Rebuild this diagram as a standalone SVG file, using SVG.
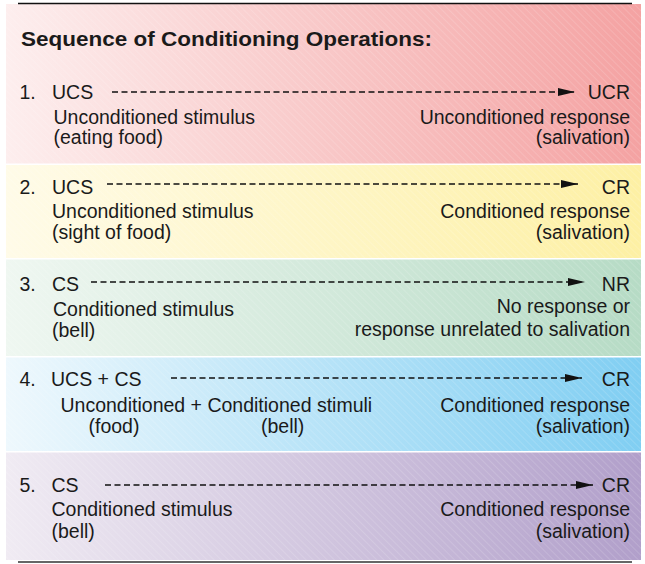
<svg xmlns="http://www.w3.org/2000/svg" width="645" height="564" viewBox="0 0 645 564">
<defs>
<linearGradient id="g1" x1="0" y1="0" x2="1" y2="0"><stop offset="0" stop-color="#fdeeee"/><stop offset="1" stop-color="#f4a2a2"/></linearGradient>
<linearGradient id="g2" x1="0" y1="0" x2="1" y2="0"><stop offset="0" stop-color="#fffbe8"/><stop offset="1" stop-color="#fdf0a4"/></linearGradient>
<linearGradient id="g3" x1="0" y1="0" x2="1" y2="0"><stop offset="0" stop-color="#eff7f1"/><stop offset="1" stop-color="#b6dbc5"/></linearGradient>
<linearGradient id="g4" x1="0" y1="0" x2="1" y2="0"><stop offset="0" stop-color="#eef8fd"/><stop offset="1" stop-color="#80cef2"/></linearGradient>
<linearGradient id="g5" x1="0" y1="0" x2="1" y2="0"><stop offset="0" stop-color="#f0ebf3"/><stop offset="1" stop-color="#b19fca"/></linearGradient>
<pattern id="hatch" width="5" height="5" patternUnits="userSpaceOnUse" patternTransform="rotate(-45)">
<line x1="0" y1="0" x2="0" y2="5" stroke="#ffffff" stroke-width="0.8" stroke-opacity="0.35"/>
</pattern>
<marker id="ah" viewBox="0 0 17 8" refX="17" refY="4" markerWidth="17" markerHeight="8" markerUnits="userSpaceOnUse" orient="auto">
<path d="M0,0 L17,4 L0,8 Z" fill="#111"/>
</marker>
<style>
text{font-family:"Liberation Sans",Arial,Helvetica,sans-serif;font-size:19.5px;fill:#1a1a1a}
.t{font-weight:bold;font-size:21px}
.r{text-anchor:end}
.arr{stroke:#111;stroke-width:1.5;stroke-dasharray:6 3.5;fill:none}
</style>
</defs>
<g id="bands">
<rect x="6" y="4" width="635" height="159.5" fill="url(#g1)"/>
<rect x="6" y="165" width="635" height="93" fill="url(#g2)"/>
<rect x="6" y="259.5" width="635" height="96.5" fill="url(#g3)"/>
<rect x="6" y="357.5" width="635" height="93.5" fill="url(#g4)"/>
<rect x="6" y="452.5" width="635" height="107.5" fill="url(#g5)"/>
<rect x="6" y="4" width="635" height="556" fill="url(#hatch)"/>
</g>
<line x1="18" y1="3.5" x2="632" y2="3.5" stroke="#111" stroke-width="1.5"/>
<line x1="18" y1="562" x2="632" y2="562" stroke="#333" stroke-width="1.5"/>
<text id="title" class="t" x="21" y="46" textLength="411" lengthAdjust="spacingAndGlyphs">Sequence of Conditioning Operations:</text>
<g id="connectors">
<line class="arr" x1="112" y1="92" x2="575" y2="92" marker-end="url(#ah)"/>
<line class="arr" x1="107" y1="184" x2="578" y2="184" marker-end="url(#ah)"/>
<line class="arr" x1="91" y1="282" x2="585" y2="282" marker-end="url(#ah)"/>
<line class="arr" x1="171" y1="378" x2="582" y2="378" marker-end="url(#ah)"/>
<line class="arr" x1="105" y1="485" x2="593" y2="485" marker-end="url(#ah)"/>
</g>
<g id="row1">
<text x="19.5" y="99">1.</text><text x="52" y="99">UCS</text>
<text x="53.5" y="123.5">Unconditioned stimulus</text>
<text x="53.5" y="143.5">(eating food)</text>
<text class="r" x="630" y="99">UCR</text>
<text class="r" x="630" y="123.5">Unconditioned response</text>
<text class="r" x="630" y="143.5">(salivation)</text>
</g>
<g id="row2">
<text x="19.5" y="194">2.</text><text x="52" y="194">UCS</text>
<text x="52" y="218">Unconditioned stimulus</text>
<text x="52" y="239">(sight of food)</text>
<text class="r" x="630" y="194">CR</text>
<text class="r" x="630" y="218">Conditioned response</text>
<text class="r" x="630" y="239">(salivation)</text>
</g>
<g id="row3">
<text x="19.5" y="291">3.</text><text x="52" y="291">CS</text>
<text x="53" y="316">Conditioned stimulus</text>
<text x="52" y="337">(bell)</text>
<text class="r" x="630" y="291">NR</text>
<text class="r" x="630" y="313">No response or</text>
<text class="r" x="630" y="336">response unrelated to salivation</text>
</g>
<g id="row4">
<text x="19.5" y="386">4.</text><text x="51" y="386">UCS + CS</text>
<text x="60.5" y="412">Unconditioned + Conditioned stimuli</text>
<text x="88.5" y="433">(food)</text>
<text x="261" y="433">(bell)</text>
<text class="r" x="630" y="386">CR</text>
<text class="r" x="630" y="412">Conditioned response</text>
<text class="r" x="630" y="433">(salivation)</text>
</g>
<g id="row5">
<text x="19.5" y="492">5.</text><text x="51.5" y="492">CS</text>
<text x="51.5" y="516">Conditioned stimulus</text>
<text x="51.5" y="538">(bell)</text>
<text class="r" x="630" y="492">CR</text>
<text class="r" x="630" y="516">Conditioned response</text>
<text class="r" x="630" y="538">(salivation)</text>
</g>
</svg>
